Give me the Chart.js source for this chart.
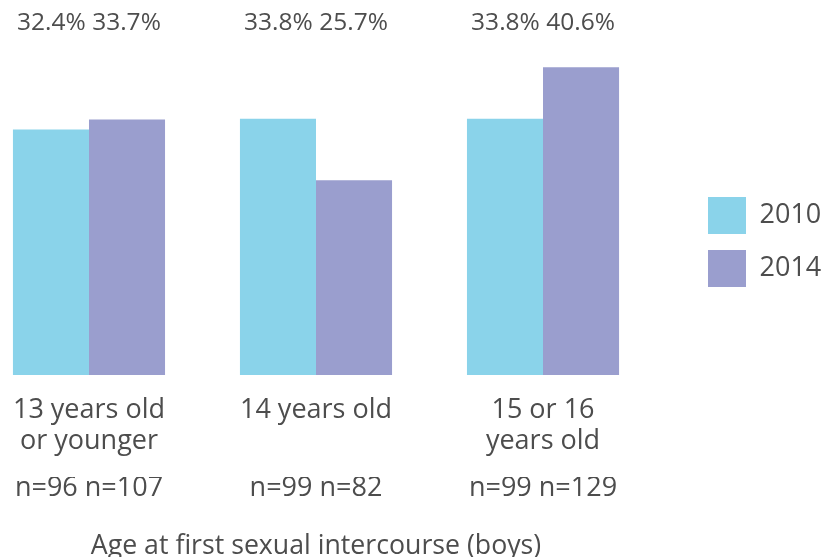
<!DOCTYPE html>
<html>
<head>
<meta charset="utf-8">
<script src="https://cdn.jsdelivr.net/npm/chart.js@4/dist/chart.umd.min.js"></script>
<style>
html, body { margin: 0; padding: 0; background: #ffffff; }
#wrap { width: 823px; height: 557px; position: relative; }
</style>
</head>
<body>
<div id="wrap"><canvas id="chart"></canvas></div>
<script>
// ---- data ----
const categories = [["13 years old", "or younger"], "14 years old", ["15 or 16", "years old"]];
const years = ["2010", "2014"];
const values2010 = [32.4, 33.8, 33.8];
const values2014 = [33.7, 25.7, 40.6];
const n2010 = [96, 99, 99];
const n2014 = [107, 82, 129];
const axisTitle = "Age at first sexual intercourse (boys)";

// ---- derived labels ----
const percentLabels = values2010.map((v, i) => v.toFixed(1) + "% " + values2014[i].toFixed(1) + "%");
const countLabels = n2010.map((n, i) => "n=" + n + " n=" + n2014[i]);
const indices = categories.map((c, i) => i);

// ---- styles ----
const colors = ["#8AD3EA", "#9A9ECE"];
const textColor = "#4d4d4d";
const family = "'Open Sans', sans-serif";
const font = (size, lineHeight) => ({ family, size, lineHeight });
const xRange = { min: -0.392, max: 2.392 };

function textAxis(position, weight, labels, fontSize, lineHeight, padding) {
  return {
    type: "linear",
    position,
    weight,
    min: xRange.min,
    max: xRange.max,
    bounds: "data",
    offset: false,
    grid: { display: false, drawTicks: false, tickLength: 0 },
    border: { display: false },
    afterBuildTicks: (axis) => { axis.ticks = indices.map((v) => ({ value: v })); },
    afterFit: (axis) => { axis.paddingLeft = 0; axis.paddingRight = 0; },
    ticks: {
      autoSkip: false,
      maxRotation: 0,
      minRotation: 0,
      padding,
      color: textColor,
      font: font(fontSize, lineHeight),
      callback: (value) => labels[value]
    }
  };
}

new Chart(document.getElementById("chart"), {
  type: "bar",
  data: {
    labels: indices,
    datasets: [
      { label: years[0], data: values2010, backgroundColor: colors[0], borderWidth: 0,
        categoryPercentage: 0.67, barPercentage: 1 },
      { label: years[1], data: values2014, backgroundColor: colors[1], borderWidth: 0,
        categoryPercentage: 0.67, barPercentage: 1 }
    ]
  },
  options: {
    responsive: true,
    maintainAspectRatio: false,
    animation: false,
    events: [],
    layout: { padding: { top: 2, right: 0, bottom: 0, left: 0 } },
    scales: {
      x: textAxis("bottom", 1, categories, 27, 1.15, 20),
      xCounts: textAxis("bottom", 2, countLabels, 27, 0.8, 0.2),
      xPercent: textAxis("top", 1, percentLabels, 24.5, 1.2, 6.3),
      y: {
        position: "right",
        min: 0,
        max: 43.67,
        grid: { display: false, drawTicks: false },
        border: { display: false },
        ticks: { display: false },
        afterFit: (axis) => { axis.width = 60; }
      }
    },
    plugins: {
      tooltip: { enabled: false },
      title: {
        display: true,
        text: axisTitle,
        position: "bottom",
        fullSize: false,
        color: textColor,
        font: { family, size: 26.7, weight: "normal", lineHeight: 0.8 },
        padding: { top: 36.2, bottom: 0.34 }
      },
      legend: {
        position: "right",
        fullSize: false,
        maxWidth: 131,
        title: { display: true, text: "", font: font(27, 1.0), padding: { top: 19, bottom: 19 } },
        labels: {
          boxWidth: 38,
          boxHeight: 37,
          padding: 16,
          color: textColor,
          font: font(27, 1.2)
        }
      }
    }
  }
});
</script>
</body>
</html>
